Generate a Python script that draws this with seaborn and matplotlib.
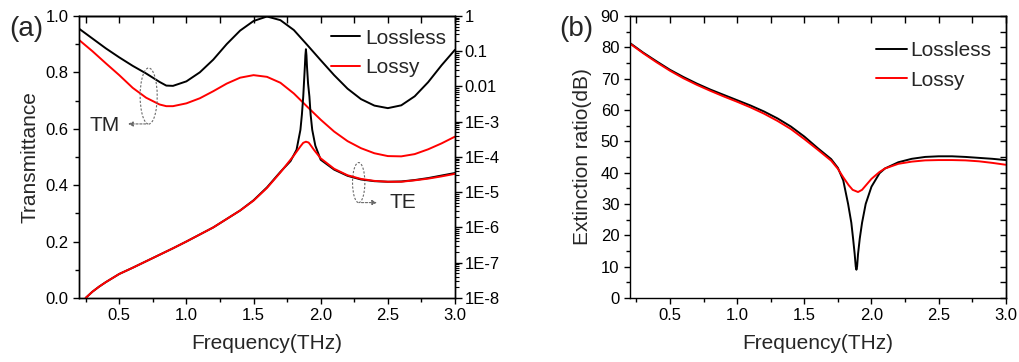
import matplotlib.pyplot as plt
import numpy as np
import seaborn as sns
from matplotlib.patches import Ellipse
from matplotlib.ticker import MultipleLocator, LogLocator, NullFormatter

# ---- panel (a): TM transmittance (linear, left axis)
freq_tm = [0.2, 0.3, 0.4, 0.5, 0.6, 0.7, 0.8, 0.85, 0.9, 1.0, 1.1, 1.2, 1.3, 1.4, 1.5,
           1.6, 1.7, 1.8, 1.9, 2.0, 2.1, 2.2, 2.3, 2.4, 2.5, 2.6, 2.7, 2.8, 2.9, 3.0]
tm_lossless = [0.955, 0.920, 0.885, 0.853, 0.823, 0.796, 0.766, 0.753, 0.752, 0.768, 0.800, 0.845,
               0.900, 0.948, 0.982, 0.998, 0.985, 0.950, 0.897, 0.843, 0.790, 0.742, 0.705, 0.682,
               0.673, 0.683, 0.715, 0.765, 0.825, 0.880]
tm_lossy = [0.915, 0.875, 0.832, 0.790, 0.745, 0.710, 0.686, 0.680, 0.680, 0.690, 0.708, 0.733,
            0.760, 0.781, 0.790, 0.784, 0.763, 0.725, 0.678, 0.632, 0.590, 0.556, 0.531, 0.513,
            0.503, 0.502, 0.510, 0.527, 0.548, 0.572]

# ---- panel (a): TE transmittance, log10 values (right axis)
freq_te_lossless = [0.25, 0.3, 0.35, 0.4, 0.5, 0.6, 0.7, 0.8, 0.9, 1.0, 1.1, 1.2, 1.3, 1.4, 1.5,
                    1.6, 1.7, 1.775, 1.82, 1.849, 1.86, 1.87, 1.882, 1.886, 1.89, 1.894, 1.898,
                    1.906, 1.916, 1.925, 1.937, 1.96, 2.0, 2.1, 2.2, 2.3, 2.4, 2.5, 2.6, 2.7,
                    2.8, 2.9, 3.0]
te_lossless_log = [-8.0, -7.824, -7.68, -7.552, -7.32, -7.144, -6.96, -6.776, -6.592, -6.4, -6.2,
                   -6.0, -5.76, -5.52, -5.23, -4.864, -4.424, -4.12, -3.8, -3.232, -2.8, -2.288,
                   -1.44, -1.12, -0.944, -1.12, -1.44, -1.92, -2.288, -2.8, -3.232, -3.68, -4.08,
                   -4.36, -4.536, -4.64, -4.688, -4.704, -4.696, -4.656, -4.6, -4.528, -4.456]
freq_te_lossy = [0.25, 0.3, 0.35, 0.4, 0.5, 0.6, 0.7, 0.8, 0.9, 1.0, 1.1, 1.2, 1.3, 1.4, 1.5,
                 1.6, 1.7, 1.75, 1.8, 1.85, 1.87, 1.89, 1.91, 1.92, 1.95, 2.0, 2.1, 2.2, 2.3,
                 2.4, 2.5, 2.6, 2.7, 2.8, 2.9, 3.0]
te_lossy_log = [-8.0, -7.824, -7.68, -7.552, -7.32, -7.144, -6.96, -6.776, -6.592, -6.4, -6.2,
                -6.0, -5.76, -5.52, -5.24, -4.88, -4.44, -4.2, -3.96, -3.696, -3.6, -3.568,
                -3.592, -3.64, -3.8, -4.04, -4.336, -4.52, -4.624, -4.68, -4.704, -4.704,
                -4.664, -4.616, -4.552, -4.48]

# ---- panel (b): extinction ratio (dB)
freq_er_lossless = [0.2, 0.3, 0.4, 0.5, 0.6, 0.7, 0.8, 0.9, 1.0, 1.1, 1.2, 1.3, 1.4, 1.5, 1.6,
                    1.7, 1.75, 1.79, 1.826, 1.85, 1.863, 1.875, 1.883, 1.888, 1.893, 1.9, 1.913,
                    1.93, 1.957, 2.0, 2.06, 2.1, 2.2, 2.3, 2.4, 2.5, 2.6, 2.7, 2.8, 2.9, 3.0]
er_lossless = [81.4, 78.3, 75.5, 72.8, 70.5, 68.4, 66.5, 64.8, 63.1, 61.4, 59.5, 57.3, 54.7,
               51.5, 47.8, 44.3, 41.5, 37.5, 30.0, 24.0, 19.0, 14.0, 10.0, 9.0, 10.0, 14.0,
               19.0, 24.0, 30.0, 35.5, 39.8, 41.3, 43.3, 44.4, 45.0, 45.2, 45.2, 45.0, 44.7,
               44.4, 44.0]
freq_er_lossy = [0.2, 0.3, 0.4, 0.5, 0.6, 0.7, 0.8, 0.9, 1.0, 1.1, 1.2, 1.3, 1.4, 1.5, 1.6,
                 1.7, 1.75, 1.79, 1.83, 1.86, 1.9, 1.93, 1.96, 2.0, 2.06, 2.1, 2.2, 2.3, 2.4,
                 2.5, 2.6, 2.7, 2.8, 2.9, 3.0]
er_lossy = [81.2, 78.1, 75.2, 72.5, 70.1, 68.0, 66.1, 64.3, 62.6, 60.8, 58.8, 56.5, 53.9, 50.7,
            47.3, 43.8, 41.2, 38.5, 36.0, 34.5, 33.8, 34.5, 36.0, 38.0, 40.2, 41.3, 42.8, 43.5,
            43.9, 44.0, 44.0, 43.9, 43.6, 43.1, 42.5]

log_labels = ["1E-8", "1E-7", "1E-6", "1E-5", "1E-4", "1E-3", "0.01", "0.1", "1"]

sns.set_style("ticks", {"axes.edgecolor": "black", "xtick.color": "black", "ytick.color": "black"})
plt.rcParams['font.family'] = ['Liberation Sans', 'DejaVu Sans']
plt.rcParams['axes.linewidth'] = 1.0

fig = plt.figure(figsize=(10.19, 3.62), dpi=100)
axa = fig.add_axes([0.0775, 0.177, 0.369, 0.779])
axb = fig.add_axes([0.618, 0.177, 0.369, 0.779])
lw = 1.4
tick_fs = 12


def style_x(ax):
    ax.set_xlim(0.2, 3.0)
    ax.xaxis.set_major_locator(MultipleLocator(0.5))
    ax.xaxis.set_minor_locator(MultipleLocator(0.25))
    ax.tick_params(axis='x', which='major', direction='out', length=4, width=1, labelsize=tick_fs)
    ax.tick_params(axis='x', which='minor', direction='out', length=3, width=1)
    top = ax.secondary_xaxis('top')
    top.xaxis.set_major_locator(MultipleLocator(0.5))
    top.xaxis.set_minor_locator(MultipleLocator(0.25))
    top.tick_params(which='both', direction='in', length=5, width=1, labeltop=False)
    ax.set_xlabel("Frequency(THz)", fontsize=15, labelpad=8)


# ---------------- (a)
sns.lineplot(x=freq_tm, y=tm_lossless, ax=axa, color='black', lw=lw, estimator=None, label="Lossless", legend=False)
sns.lineplot(x=freq_tm, y=tm_lossy, ax=axa, color='red', lw=lw, estimator=None, label="Lossy", legend=False)
axa.set_ylim(0, 1.0)
axa.yaxis.set_major_locator(MultipleLocator(0.2))
axa.yaxis.set_minor_locator(MultipleLocator(0.1))
axa.yaxis.set_major_formatter(plt.FormatStrFormatter('%.1f'))
axa.tick_params(axis='y', which='major', direction='out', length=4, width=1, labelsize=tick_fs)
axa.tick_params(axis='y', which='minor', direction='out', length=3, width=1)
axa.set_ylabel("Transmittance", fontsize=15, labelpad=4)
style_x(axa)

ax2 = axa.twinx()
sns.lineplot(x=freq_te_lossless, y=10 ** np.array(te_lossless_log), ax=ax2, color='black', lw=lw, estimator=None)
sns.lineplot(x=freq_te_lossy, y=10 ** np.array(te_lossy_log), ax=ax2, color='red', lw=lw, estimator=None)
ax2.set_yscale('log')
ax2.set_ylim(1e-8, 1)
ax2.set_yticks([10.0 ** k for k in range(-8, 1)])
ax2.set_yticklabels(log_labels)
ax2.yaxis.set_minor_locator(LogLocator(base=10, subs=np.arange(2, 10), numticks=20))
ax2.yaxis.set_minor_formatter(NullFormatter())
ax2.tick_params(axis='y', which='major', direction='out', length=5, width=1, labelsize=tick_fs, pad=2)
ax2.tick_params(axis='y', which='minor', direction='out', length=3, width=0.8)
ax2.set_ylabel("")
axa.set_xlim(0.2, 3.0)

# annotations
axa.add_patch(Ellipse((0.719, 0.716), 0.127, 0.199, fill=False, ec='dimgray', lw=0.8, ls=(0, (2, 1.5)), zorder=5))
axa.annotate("", xy=(0.545, 0.617), xytext=(0.719, 0.617),
             arrowprops=dict(arrowstyle='-|>', color='dimgray', lw=0.8, ls=(0, (2, 1.5)), mutation_scale=7))
axa.text(0.505, 0.613, "TM", fontsize=15, ha='right', va='center')
axa.add_patch(Ellipse((2.283, 0.409), 0.092, 0.142, fill=False, ec='dimgray', lw=0.8, ls=(0, (2, 1.5)), zorder=5))
axa.annotate("", xy=(2.44, 0.338), xytext=(2.283, 0.338),
             arrowprops=dict(arrowstyle='-|>', color='dimgray', lw=0.8, ls=(0, (2, 1.5)), mutation_scale=7))
axa.text(2.51, 0.338, "TE", fontsize=15, ha='left', va='center')

h, l = axa.get_legend_handles_labels()
ax2.legend(h, l, loc='upper left', bbox_to_anchor=(0.67, 0.955), frameon=False, fontsize=15,
           handlelength=1.4, handletextpad=0.25, labelspacing=0.5, borderpad=0, borderaxespad=0)
fig.text(0.026, 0.92, "(a)", fontsize=20, ha='center', va='center')

# ---------------- (b)
sns.lineplot(x=freq_er_lossless, y=er_lossless, ax=axb, color='black', lw=lw, estimator=None, label="Lossless", legend=False)
sns.lineplot(x=freq_er_lossy, y=er_lossy, ax=axb, color='red', lw=lw, estimator=None, label="Lossy", legend=False)
axb.set_ylim(0, 90)
axb.yaxis.set_major_locator(MultipleLocator(10))
axb.yaxis.set_minor_locator(MultipleLocator(5))
axb.tick_params(axis='y', which='major', direction='out', length=4, width=1, labelsize=tick_fs)
axb.tick_params(axis='y', which='minor', direction='out', length=3, width=1)
right = axb.secondary_yaxis('right')
right.yaxis.set_major_locator(MultipleLocator(10))
right.yaxis.set_minor_locator(MultipleLocator(5))
right.tick_params(which='both', direction='in', length=4, width=1, labelright=False)
axb.set_ylabel("Extinction ratio(dB)", fontsize=15, labelpad=6)
style_x(axb)
axb.legend(loc='upper left', bbox_to_anchor=(0.655, 0.91), frameon=False, fontsize=15,
           handlelength=1.5, handletextpad=0.15, labelspacing=0.5, borderpad=0, borderaxespad=0)
fig.text(0.5655, 0.92, "(b)", fontsize=20, ha='center', va='center')

fig.savefig("out.png", dpi=100)
